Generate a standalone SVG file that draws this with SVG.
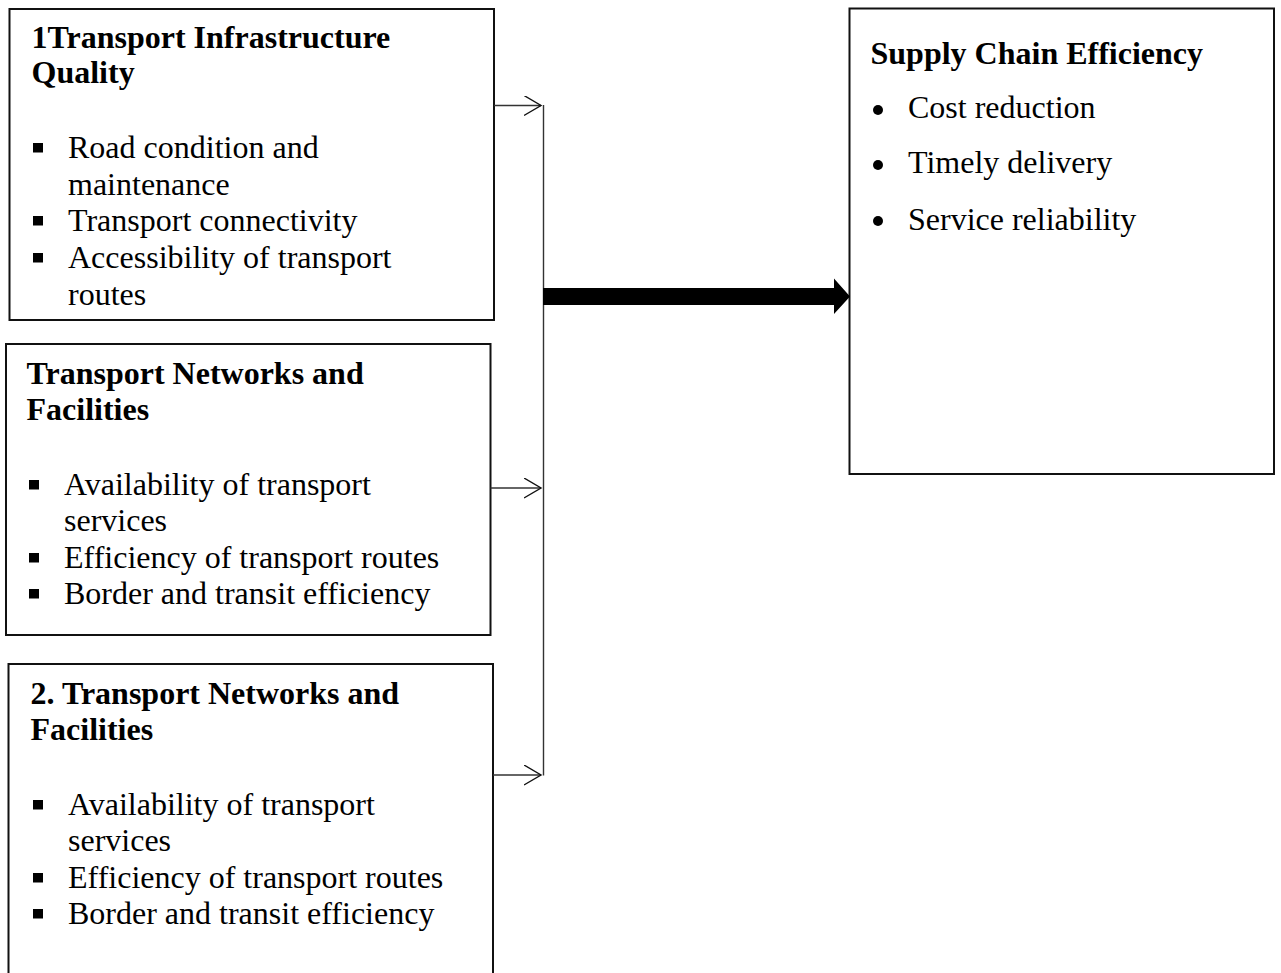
<svg xmlns="http://www.w3.org/2000/svg" width="1281" height="973" viewBox="0 0 1281 973">
  <style>
    .box { fill: #ffffff; stroke: #111111; stroke-width: 2; }
    .title { font-family: "Liberation Serif", "Times New Roman", serif; font-size: 32px; font-weight: bold; fill: #000000; }
    .item { font-family: "Liberation Serif", "Times New Roman", serif; font-size: 32px; fill: #000000; }
    .sq { fill: #000000; }
    .link { fill: none; stroke: #333333; stroke-width: 1.4; }
  </style>
  <defs>
    <marker id="open" markerWidth="20" markerHeight="24" refX="17" refY="10" orient="auto" markerUnits="userSpaceOnUse">
      <path d="M0,0 L17,10 L0,20" fill="none" stroke="#111111" stroke-width="1.4"/>
    </marker>
  </defs>
  <rect width="1281" height="973" fill="#ffffff"/>

  <!-- Box 1: infrastructure quality -->
  <g id="node-infrastructure">
    <rect class="box" x="9.5" y="9" width="484.5" height="311"/>
    <text class="title" x="31.5" y="48">1Transport Infrastructure</text>
    <text class="title" x="31.5" y="83">Quality</text>
    <rect class="sq" x="33" y="143" width="10" height="9.5"/>
    <text class="item" x="68" y="158">Road condition and</text>
    <text class="item" x="68" y="195">maintenance</text>
    <rect class="sq" x="33" y="216" width="10" height="9.5"/>
    <text class="item" x="68" y="231">Transport connectivity</text>
    <rect class="sq" x="33" y="253" width="10" height="9.5"/>
    <text class="item" x="68" y="268">Accessibility of transport</text>
    <text class="item" x="68" y="305">routes</text>
  </g>

  <!-- Box 2: networks and facilities -->
  <g id="node-networks">
    <rect class="box" x="6" y="344" width="484.5" height="291"/>
    <text class="title" x="26.5" y="384">Transport Networks and</text>
    <text class="title" x="26.5" y="420">Facilities</text>
    <rect class="sq" x="29" y="480" width="10" height="9.5"/>
    <text class="item" x="64" y="495">Availability of transport</text>
    <text class="item" x="64" y="531">services</text>
    <rect class="sq" x="29" y="553" width="10" height="9.5"/>
    <text class="item" x="64" y="568">Efficiency of transport routes</text>
    <rect class="sq" x="29" y="589" width="10" height="9.5"/>
    <text class="item" x="64" y="604">Border and transit efficiency</text>
  </g>

  <!-- Box 3: networks and facilities (2.) -->
  <g id="node-networks-2">
    <rect class="box" x="8.5" y="664" width="484.5" height="330"/>
    <text class="title" x="30.5" y="704">2. Transport Networks and</text>
    <text class="title" x="30.5" y="740">Facilities</text>
    <rect class="sq" x="33" y="800" width="10" height="9.5"/>
    <text class="item" x="68" y="815">Availability of transport</text>
    <text class="item" x="68" y="851">services</text>
    <rect class="sq" x="33" y="873" width="10" height="9.5"/>
    <text class="item" x="68" y="888">Efficiency of transport routes</text>
    <rect class="sq" x="33" y="909" width="10" height="9.5"/>
    <text class="item" x="68" y="924">Border and transit efficiency</text>
  </g>

  <!-- Outcome box -->
  <g id="node-supply-chain">
    <rect class="box" x="849.5" y="8.5" width="424.5" height="465.5"/>
    <text class="title" x="870.5" y="64">Supply Chain Efficiency</text>
    <circle cx="878" cy="110" r="5"/>
    <text class="item" x="908" y="118">Cost reduction</text>
    <circle cx="878" cy="165" r="5"/>
    <text class="item" x="908" y="173">Timely delivery</text>
    <circle cx="878" cy="221" r="5"/>
    <text class="item" x="908" y="229.5">Service reliability</text>
  </g>

  <!-- Connectors -->
  <g id="connectors">
    <line class="link" x1="494" y1="105.5" x2="541" y2="105.5" marker-end="url(#open)"/>
    <line class="link" x1="490.5" y1="488" x2="541" y2="488" marker-end="url(#open)"/>
    <line class="link" x1="493" y1="775" x2="541" y2="775" marker-end="url(#open)"/>
    <line class="link" x1="543.5" y1="105" x2="543.5" y2="775.5"/>
    <polygon points="543,288 834,288 834,278.5 850,296.5 834,314 834,305 543,305" fill="#000000"/>
  </g>
</svg>
